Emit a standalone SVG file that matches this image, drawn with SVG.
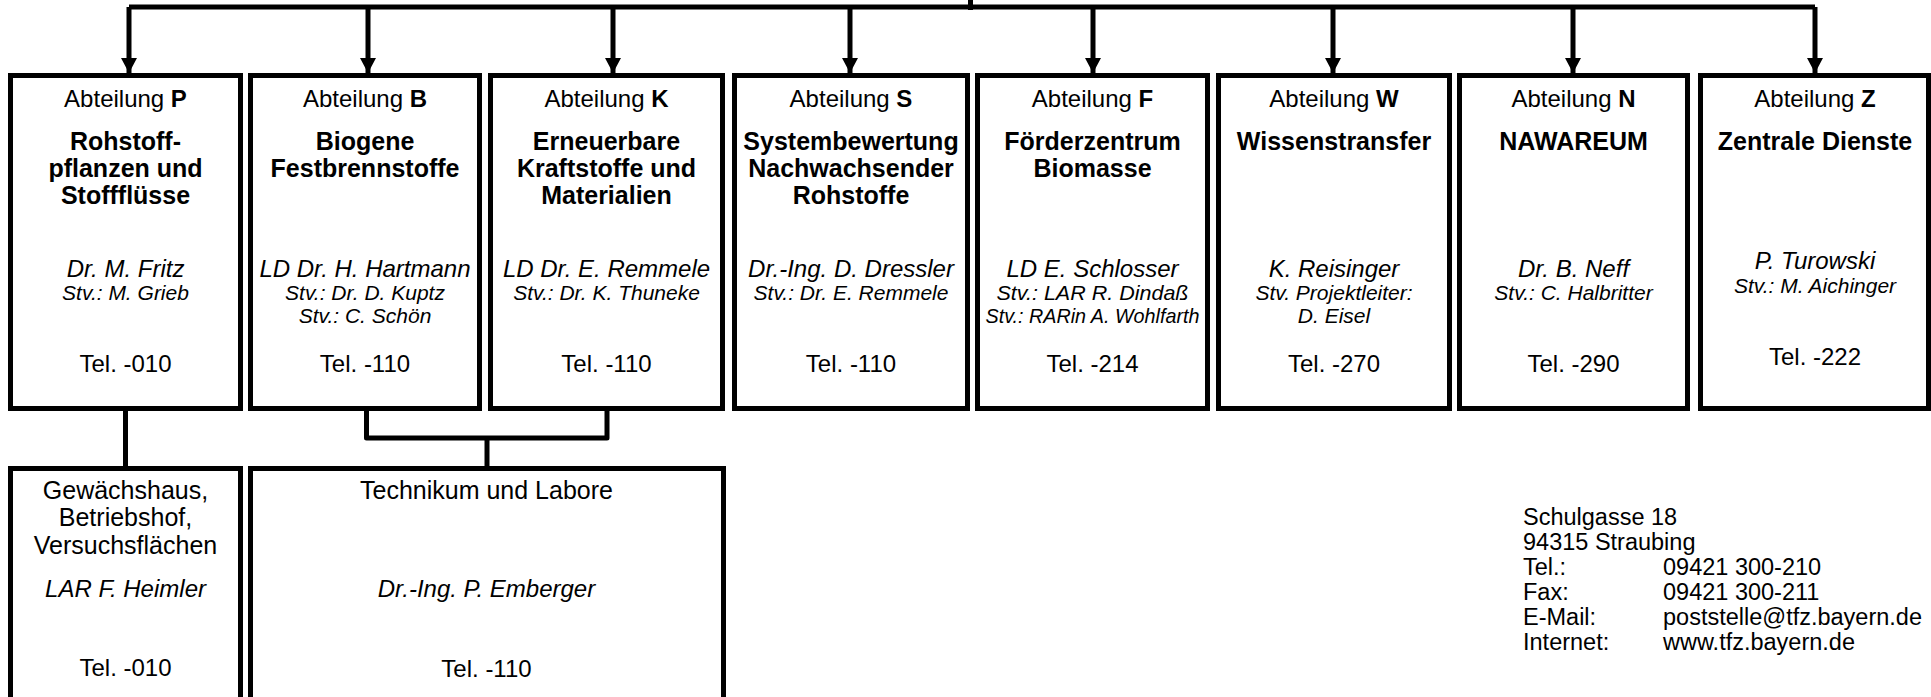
<svg xmlns="http://www.w3.org/2000/svg" width="1931" height="697" viewBox="0 0 1931 697">
<style>
text{font-family:"Liberation Sans",Arial,sans-serif;fill:#000;text-anchor:middle}
.box{fill:#fff;stroke:#000;stroke-width:5}
.hd{font-size:24px}
.ti{font-size:25px;font-weight:bold}
.nm{font-size:24px;font-style:italic}
.sv{font-size:21px;font-style:italic}
.tel{font-size:24px}
.lo{font-size:25px}
.ad{font-size:23.5px;text-anchor:start}
.ln{fill:none;stroke:#000;stroke-width:5;stroke-linejoin:round}
</style>
<defs>
<marker id="ah" markerUnits="userSpaceOnUse" markerWidth="16" markerHeight="16" refX="15" refY="8" orient="auto">
<path d="M0,0 L15,8 L0,16 z" fill="#000"/>
</marker>
</defs>
<g id="connectors">
<path class="ln" d="M970.5,0 V10"/>
<path class="ln" d="M129,7 H1815"/>
<path class="ln" d="M129,7 V73" marker-end="url(#ah)"/>
<path class="ln" d="M368,7 V73" marker-end="url(#ah)"/>
<path class="ln" d="M613,7 V73" marker-end="url(#ah)"/>
<path class="ln" d="M850,7 V73" marker-end="url(#ah)"/>
<path class="ln" d="M1093,7 V73" marker-end="url(#ah)"/>
<path class="ln" d="M1333,7 V73" marker-end="url(#ah)"/>
<path class="ln" d="M1573,7 V73" marker-end="url(#ah)"/>
<path class="ln" d="M1815,7 V73" marker-end="url(#ah)"/>
<path class="ln" d="M125.5,410 V467"/>
<path class="ln" d="M366.5,410 V438 H607 V410"/>
<path class="ln" d="M487,438 V467"/>
</g>
<g id="abt-P">
<rect class="box" x="10.5" y="75.5" width="230" height="333"/>
<text class="hd" x="125.5" y="107">Abteilung <tspan font-weight="bold">P</tspan></text>
<text class="ti" x="125.5" y="150">Rohstoff-</text>
<text class="ti" x="125.5" y="177">pflanzen und</text>
<text class="ti" x="125.5" y="204">Stoffflüsse</text>
<text class="nm" x="125.5" y="277">Dr. M. Fritz</text>
<text class="sv" x="125.5" y="300">Stv.: M. Grieb</text>
<text class="tel" x="125.5" y="372">Tel. -010</text>
</g>
<g id="abt-B">
<rect class="box" x="250.5" y="75.5" width="229" height="333"/>
<text class="hd" x="365" y="107">Abteilung <tspan font-weight="bold">B</tspan></text>
<text class="ti" x="365" y="150">Biogene</text>
<text class="ti" x="365" y="177">Festbrennstoffe</text>
<text class="nm" x="365" y="277">LD Dr. H. Hartmann</text>
<text class="sv" x="365" y="300">Stv.: Dr. D. Kuptz</text>
<text class="sv" x="365" y="323">Stv.: C. Schön</text>
<text class="tel" x="365" y="372">Tel. -110</text>
</g>
<g id="abt-K">
<rect class="box" x="490.5" y="75.5" width="232" height="333"/>
<text class="hd" x="606.5" y="107">Abteilung <tspan font-weight="bold">K</tspan></text>
<text class="ti" x="606.5" y="150">Erneuerbare</text>
<text class="ti" x="606.5" y="177">Kraftstoffe und</text>
<text class="ti" x="606.5" y="204">Materialien</text>
<text class="nm" x="606.5" y="277">LD Dr. E. Remmele</text>
<text class="sv" x="606.5" y="300">Stv.: Dr. K. Thuneke</text>
<text class="tel" x="606.5" y="372">Tel. -110</text>
</g>
<g id="abt-S">
<rect class="box" x="734.5" y="75.5" width="233" height="333"/>
<text class="hd" x="851" y="107">Abteilung <tspan font-weight="bold">S</tspan></text>
<text class="ti" x="851" y="150">Systembewertung</text>
<text class="ti" x="851" y="177">Nachwachsender</text>
<text class="ti" x="851" y="204">Rohstoffe</text>
<text class="nm" x="851" y="277">Dr.-Ing. D. Dressler</text>
<text class="sv" x="851" y="300">Stv.: Dr. E. Remmele</text>
<text class="tel" x="851" y="372">Tel. -110</text>
</g>
<g id="abt-F">
<rect class="box" x="977.5" y="75.5" width="230" height="333"/>
<text class="hd" x="1092.5" y="107">Abteilung <tspan font-weight="bold">F</tspan></text>
<text class="ti" x="1092.5" y="150">Förderzentrum</text>
<text class="ti" x="1092.5" y="177">Biomasse</text>
<text class="nm" x="1092.5" y="277">LD E. Schlosser</text>
<text class="sv" x="1092.5" y="300" textLength="192" lengthAdjust="spacingAndGlyphs">Stv.: LAR R. Dindaß</text>
<text class="sv" x="1092.5" y="323" textLength="214" lengthAdjust="spacingAndGlyphs">Stv.: RARin A. Wohlfarth</text>
<text class="tel" x="1092.5" y="372">Tel. -214</text>
</g>
<g id="abt-W">
<rect class="box" x="1218.5" y="75.5" width="231" height="333"/>
<text class="hd" x="1334" y="107">Abteilung <tspan font-weight="bold">W</tspan></text>
<text class="ti" x="1334" y="150">Wissenstransfer</text>
<text class="nm" x="1334" y="277">K. Reisinger</text>
<text class="sv" x="1334" y="300">Stv. Projektleiter:</text>
<text class="sv" x="1334" y="323">D. Eisel</text>
<text class="tel" x="1334" y="372">Tel. -270</text>
</g>
<g id="abt-N">
<rect class="box" x="1459.5" y="75.5" width="228" height="333"/>
<text class="hd" x="1573.5" y="107">Abteilung <tspan font-weight="bold">N</tspan></text>
<text class="ti" x="1573.5" y="150">NAWAREUM</text>
<text class="nm" x="1573.5" y="277">Dr. B. Neff</text>
<text class="sv" x="1573.5" y="300">Stv.: C. Halbritter</text>
<text class="tel" x="1573.5" y="372">Tel. -290</text>
</g>
<g id="abt-Z">
<rect class="box" x="1700.5" y="75.5" width="228" height="333"/>
<text class="hd" x="1815" y="107">Abteilung <tspan font-weight="bold">Z</tspan></text>
<text class="ti" x="1815" y="150">Zentrale Dienste</text>
<text class="nm" x="1815" y="269">P. Turowski</text>
<text class="sv" x="1815" y="293">Stv.: M. Aichinger</text>
<text class="tel" x="1815" y="365">Tel. -222</text>
</g>
<g id="gewaechshaus">
<rect class="box" x="10.5" y="468.5" width="230" height="260"/>
<text class="lo" x="125.5" y="499">Gewächshaus,</text>
<text class="lo" x="125.5" y="526">Betriebshof,</text>
<text class="lo" x="125.5" y="554">Versuchsflächen</text>
<text class="nm" x="125.5" y="597">LAR F. Heimler</text>
<text class="tel" x="125.5" y="676">Tel. -010</text>
</g>
<g id="technikum">
<rect class="box" x="250.5" y="468.5" width="473" height="260"/>
<text class="lo" x="486.5" y="499">Technikum und Labore</text>
<text class="nm" x="486.5" y="597">Dr.-Ing. P. Emberger</text>
<text class="tel" x="486.5" y="677">Tel. -110</text>
</g>
<g id="adresse">
<text class="ad" x="1523" y="525">Schulgasse 18</text>
<text class="ad" x="1523" y="550">94315 Straubing</text>
<text class="ad" x="1523" y="575">Tel.:</text>
<text class="ad" x="1663" y="575">09421 300-210</text>
<text class="ad" x="1523" y="600">Fax:</text>
<text class="ad" x="1663" y="600">09421 300-211</text>
<text class="ad" x="1523" y="625">E-Mail:</text>
<text class="ad" x="1663" y="625">poststelle@tfz.bayern.de</text>
<text class="ad" x="1523" y="650">Internet:</text>
<text class="ad" x="1663" y="650">www.tfz.bayern.de</text>
</g>
</svg>
